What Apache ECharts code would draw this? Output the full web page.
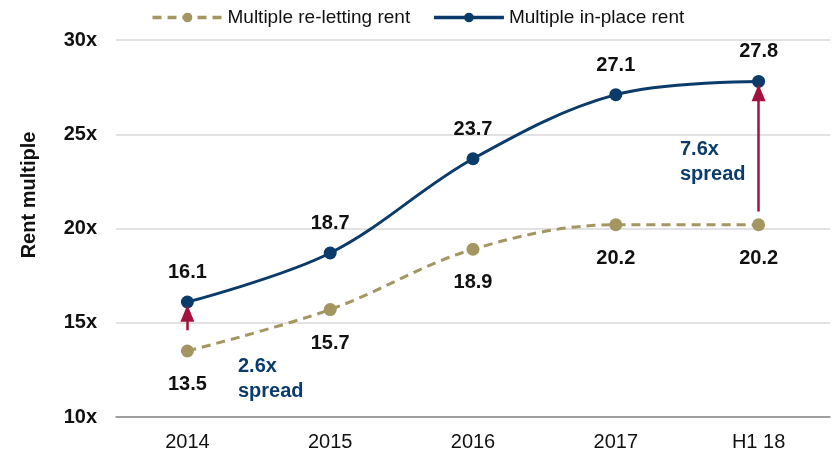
<!DOCTYPE html>
<html>
<head>
<meta charset="utf-8">
<script src="https://cdn.jsdelivr.net/npm/echarts@6/dist/echarts.min.js"></script>
<style>
  html, body { margin: 0; padding: 0; background: #fff; }
  #chart { width: 835px; height: 454px; }
</style>
</head>
<body>
<div id="chart"></div>
<script>
const periods = ['2014', '2015', '2016', '2017', 'H1 18'];
const reletting = [13.5, 15.7, 18.9, 20.2, 20.2];
const inPlace = [16.1, 18.7, 23.7, 27.1, 27.8];
// spread arrows: [category, from, to]
const spreadArrows = [['2014', 14.6, 15.5], ['H1 18', 20.9, 27.2]];

const navy = '#0b3b6b';
const olive = '#a39660';
const red = '#a3123e';
const font = 'Liberation Sans, Arial';

const myChart = echarts.init(document.getElementById('chart'));
const labelFont = { fontFamily: font, fontWeight: 'bold', fontSize: 20, color: '#111' };

const option = {
  animation: false,
  textStyle: { fontFamily: font },
  legend: {
    top: 3,
    left: 'center',
    itemWidth: 70,
    itemHeight: 12,
    itemGap: 22,
    lineStyle: { width: 3.5 },
    textStyle: { fontSize: 19, color: '#111' },
    data: ['Multiple re-letting rent', 'Multiple in-place rent']
  },
  grid: { left: 116, right: 5, top: 40, bottom: 37 },
  xAxis: {
    type: 'category',
    data: periods,
    axisLine: { lineStyle: { color: '#888', width: 1.5 } },
    axisTick: { length: 6, lineStyle: { color: '#888' } },
    axisLabel: { fontSize: 20, color: '#111', margin: 15 }
  },
  yAxis: {
    type: 'value',
    min: 10,
    max: 30,
    interval: 5,
    axisLine: { show: false },
    axisTick: { show: false },
    axisLabel: { formatter: '{value}x', fontSize: 20, fontWeight: 'bold', color: '#111', margin: 19 },
    splitLine: { lineStyle: { color: '#d9d9d9', width: 1.5 } }
  },
  series: [
    {
      name: 'Multiple re-letting rent',
      type: 'line',
      smooth: 0.35,
      data: reletting,
      symbol: 'circle',
      symbolSize: 13,
      itemStyle: { color: olive },
      lineStyle: { color: olive, width: 3, type: [9, 6] },
      label: Object.assign({ show: true, position: 'bottom', distance: 17, formatter: p => p.value.toFixed(1) }, labelFont),
      z: 2
    },
    {
      name: 'Multiple in-place rent',
      type: 'line',
      smooth: 0.35,
      data: inPlace,
      symbol: 'circle',
      symbolSize: 13,
      itemStyle: { color: navy },
      lineStyle: { color: navy, width: 3 },
      label: Object.assign({ show: true, position: 'top', distance: 13, formatter: p => p.value.toFixed(1) }, labelFont),
      markLine: {
        silent: true,
        symbol: ['none', 'triangle'],
        symbolSize: [14, 17],
        lineStyle: { color: red, width: 2.5, type: 'solid' },
        label: { show: false },
        data: spreadArrows.map(a => [{ coord: [a[0], a[1]] }, { coord: [a[0], a[2]] }])
      },
      z: 3
    }
  ],
  graphic: [
    {
      type: 'text', x: 29, y: 195, rotation: Math.PI / 2,
      style: { text: 'Rent multiple', fill: '#111', font: 'bold 20px ' + font, align: 'center', verticalAlign: 'middle' }
    },
    {
      type: 'text', left: 238, top: 354,
      style: { text: '2.6x\nspread', fill: navy, font: 'bold 20px ' + font, lineHeight: 25 }
    },
    {
      type: 'text', left: 680, top: 137,
      style: { text: '7.6x\nspread', fill: navy, font: 'bold 20px ' + font, lineHeight: 25 }
    }
  ]
};
myChart.setOption(option);
</script>
</body>
</html>
